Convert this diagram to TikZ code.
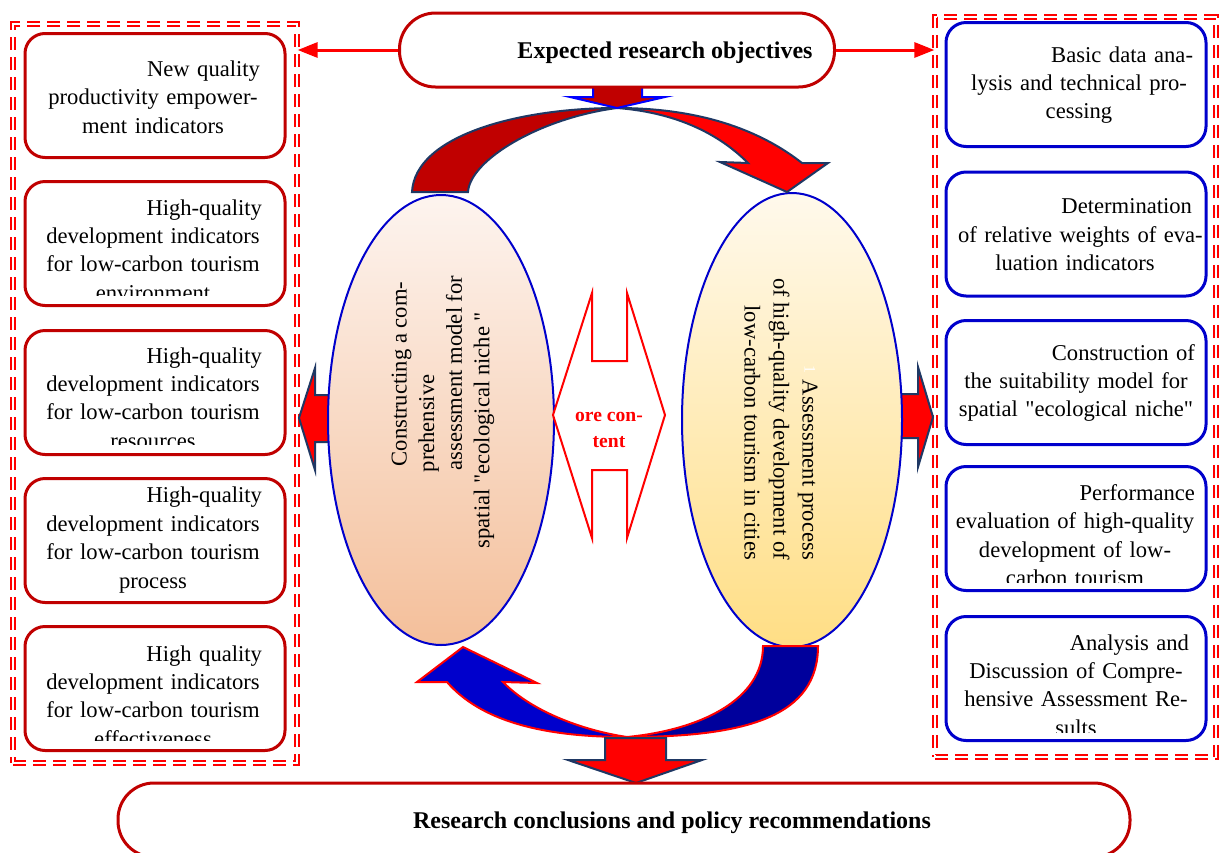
\documentclass[tikz,border=0pt]{standalone}
\usepackage{fontspec}
\setmainfont{Liberation Serif}
\newfontfamily\quoteFont{Liberation Serif}
\newcommand{\straightQuote}{{\quoteFont"}}
\usetikzlibrary{arrows.meta,shapes.geometric}
\definecolor{boxRed}{HTML}{C00000}
\definecolor{boxBlue}{HTML}{0000CC}
\definecolor{arrowRed}{HTML}{FF0000}
\definecolor{arrowNavy}{HTML}{1F3864}
\definecolor{deepBlue}{HTML}{00009C}
\definecolor{peachTop}{HTML}{FDF4EF}
\definecolor{peachBottom}{HTML}{F4BF9A}
\definecolor{goldTop}{HTML}{FFF9EC}
\definecolor{goldBottom}{HTML}{FFDE85}

\begin{document}
\begin{tikzpicture}[x=0.5pt, y=-0.5pt,
	panel/.style={draw=arrowRed, double=white, double distance=1.4pt, line width=0.65pt, dash pattern=on 6.5pt off 3.5pt},
	leftBox/.style={draw=boxRed, fill=white, line width=1.5pt, rounded corners=10pt, minimum width=130pt, minimum height=62pt},
	rightBox/.style={leftBox, draw=boxBlue},
	boxText/.style={align=center, inner sep=0pt, font=\fontsize{11.3}{14.2}\selectfont},
	stadium/.style={draw=boxRed, fill=white, line width=1.5pt, rounded corners=18pt, minimum height=37pt, text height=8.5pt, text depth=0pt, font=\bfseries\fontsize{12}{14}\selectfont},
	connector/.style={draw=arrowRed, line width=1.5pt, -{Triangle[length=10pt, width=7.5pt]}},
	blockArrow/.style={draw=arrowNavy, line width=1pt},
	bigEllipse/.style={ellipse, draw=boxBlue, line width=1pt},
	ellipseText/.style={inner sep=0pt, font=\fontsize{11.3}{13.8}\selectfont}]
	\useasboundingbox (0,0) rectangle (1220,852);

	\node[panel, minimum width=142pt, minimum height=369.5pt] (leftPanel) at (155,393.5) {};
	\node[panel, minimum width=140.5pt, minimum height=370pt] (rightPanel) at (1075.5,387) {};

	\filldraw[blockArrow, fill=arrowRed] (340,395) -- (315,395) -- (315,368) -- (299,418) -- (315,470) -- (315,442) -- (340,442) -- cycle;
	\filldraw[blockArrow, fill=arrowRed] (890,394) -- (918,394) -- (918,367) -- (933,417) -- (918,467) -- (918,438) -- (890,438) -- cycle;

	\node[bigEllipse, minimum width=113pt, minimum height=225pt, top color=peachTop, bottom color=peachBottom] (modelEllipse) at (441,420) {};
	\node[bigEllipse, minimum width=110pt, minimum height=227pt, top color=goldTop, bottom color=goldBottom] (assessEllipse) at (792,420) {};

	\filldraw[blockArrow, fill=boxRed] (412,192) .. controls (415,135) and (520,108) .. (617,108) .. controls (540,118) and (470,160) .. (468,192) -- cycle;
	\filldraw[blockArrow, fill=arrowRed] (617,108) .. controls (700,108) and (760,130) .. (802,163) -- (828,163) -- (787,192) -- (720,162) -- (748,163) .. controls (715,130) and (670,112) .. (617,108) -- cycle;
	\filldraw[draw=blue, fill=boxRed, line width=1pt] (593,80) -- (642,80) -- (642,97) -- (665,97) -- (617,108) -- (570,97) -- (593,97) -- cycle;

	\filldraw[draw=arrowRed, fill=deepBlue, line width=1pt] (763,646) -- (818,646) .. controls (818,715) and (750,737) .. (627,737) .. controls (700,730) and (763,700) .. (763,646) -- cycle;
	\filldraw[draw=arrowRed, fill=boxBlue, line width=1pt] (627,737) .. controls (540,737) and (480,720) .. (447,682) -- (417,682) -- (463,647) -- (537,683) -- (503,682) .. controls (530,710) and (580,730) .. (627,737) -- cycle;
	\filldraw[blockArrow, fill=arrowRed] (605,738) -- (666,738) -- (666,760) -- (702,760) -- (636,783) -- (568,760) -- (605,760) -- cycle;

	\node[stadium, minimum width=217.5pt] (objectives) at (617,50) {\hspace*{48pt}Expected research objectives};
	\node[stadium, minimum width=506pt] (conclusions) at (624,820) {\hspace*{48pt}Research conclusions and policy recommendations};

	\draw[connector] (objectives.west) -- (objectives.west -| leftPanel.east);
	\draw[connector] (objectives.east) -- (objectives.east -| rightPanel.west);

	\node[leftBox] (productivityBox) at (155,95.5) {};
	\node[boxText, text width=107pt] (productivityText) at (153,97) {\hspace*{\fill}New quality\\productivity empower-\\ment indicators};
	\node[leftBox] (environmentBox) at (155,243.5) {};
	\begin{scope}
		\clip (environmentBox.north west) rectangle ([yshift=6pt]environmentBox.south east);
		\node[boxText, text width=109pt] (environmentText) at (153,250) {\hspace*{\fill}High-quality\\development indicators\\for low-carbon tourism\\environment};
	\end{scope}
	\node[leftBox] (resourcesBox) at (155,392.5) {};
	\begin{scope}
		\clip (resourcesBox.north west) rectangle ([yshift=6pt]resourcesBox.south east);
		\node[boxText, text width=109pt] (resourcesText) at (153,398) {\hspace*{\fill}High-quality\\development indicators\\for low-carbon tourism\\resources};
	\end{scope}
	\node[leftBox] (processBox) at (155,540.5) {};
	\node[boxText, text width=109pt] (processText) at (153,540) {\hspace*{\fill}High-quality\\development indicators\\for low-carbon tourism\\process};
	\node[leftBox] (effectivenessBox) at (155,688.5) {};
	\begin{scope}
		\clip (effectivenessBox.north west) rectangle ([yshift=6pt]effectivenessBox.south east);
		\node[boxText, text width=109pt] (effectivenessText) at (153,696) {\hspace*{\fill}High quality\\development indicators\\for low-carbon tourism\\effectiveness};
	\end{scope}

	\node[rightBox] (dataBox) at (1076,84.5) {};
	\node[boxText, text width=114pt] (dataText) at (1079,85) {\hspace*{\fill}Basic data ana-\\lysis and technical pro-\\cessing};
	\node[rightBox] (weightsBox) at (1076,234) {};
	\node[boxText, text width=117pt] (weightsText) at (1075,235) {\hspace*{\fill}Determination\\\mbox{of relative weights of eva-}\\luation indicators};
	\node[rightBox] (suitabilityBox) at (1076,382.5) {};
	\node[boxText, text width=119pt] (suitabilityText) at (1076,383) {\hspace*{\fill}Construction of\\the suitability model for\\spatial \straightQuote ecological niche\straightQuote};
	\node[rightBox] (performanceBox) at (1076,528.5) {};
	\begin{scope}
		\clip (performanceBox.north west) rectangle ([yshift=5pt]performanceBox.south east);
		\node[boxText, text width=120pt] (performanceText) at (1075,535) {\hspace*{\fill}Performance\\evaluation of high-quality\\development of low-\\carbon tourism};
	\end{scope}
	\node[rightBox] (resultsBox) at (1076,678.5) {};
	\begin{scope}
		\clip (resultsBox.north west) rectangle ([yshift=5pt]resultsBox.south east);
		\node[boxText, text width=113pt] (resultsText) at (1076,685) {\hspace*{\fill}Analysis and\\Discussion of Compre-\\hensive Assessment Re-\\sults};
	\end{scope}

	\filldraw[draw=arrowRed, fill=white, line width=1pt] (553,415) -- (592,293) -- (592,361) -- (627,361) -- (627,293) -- (665,415) -- (627,538) -- (627,470) -- (592,470) -- (592,538) -- cycle;
	\node[font=\bfseries\fontsize{9.8}{13}\selectfont, text=arrowRed, align=center] (coreText) at (609,430) {ore con-\\tent};

	\node[ellipseText, rotate=90, align=left] (modelText) at (443,412) {\hspace*{41pt}Constructing a com-\\\hspace*{38pt}prehensive\\\hspace*{39pt}assessment model for\\spatial \straightQuote ecological niche \straightQuote};
	\node[ellipseText, rotate=-90, align=right, font=\fontsize{11.3}{14.5}\selectfont] (assessText) at (781,419) {\raisebox{1pt}{\fontsize{8}{8}\selectfont\textcolor{white}{1}}\hspace{3pt}Assessment process\\of high-quality development of\\low-carbon tourism in cities};
\end{tikzpicture}
\end{document}
